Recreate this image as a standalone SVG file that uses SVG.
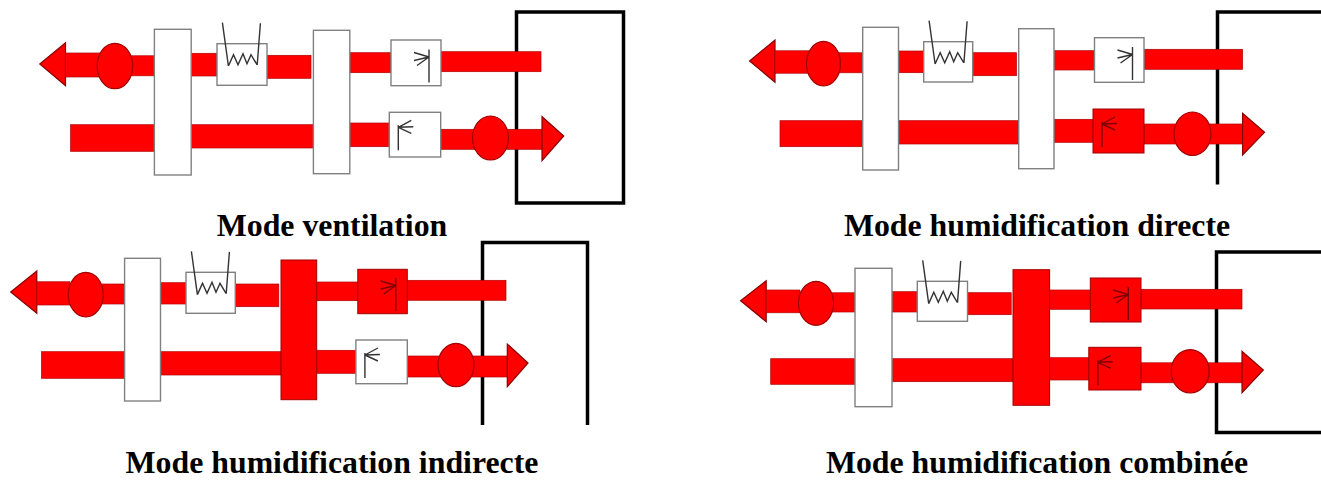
<svg xmlns="http://www.w3.org/2000/svg" width="1321" height="480" viewBox="0 0 1321 480">
<style>
.room{fill:#fff;stroke:#000;stroke-width:3.5}
.band{fill:#f00;stroke:#b00000;stroke-width:.7}
.tip{fill:#f00;stroke:#8a0000;stroke-width:1.200}
.fan{fill:#f00;stroke:#a00000;stroke-width:1.200}
.off{fill:#fff;stroke:#808080;stroke-width:1.400}
.on{fill:#f00;stroke:#a00000;stroke-width:1}
.ln{fill:none;stroke:#333;stroke-width:1.400}
.lnr{fill:none;stroke:#800000;stroke-width:1.400}
text{font-family:"Liberation Serif","Times New Roman",serif;font-weight:bold;font-size:31.800px;fill:#000;text-anchor:middle}
</style>
<defs>
<g id="coil"><path class="ln" d="M5.400-21 11.400 22.300M43.400-20.400 40.200 21.300M11.400 22.300 16.500 11 21 21 26 10 30 20 34 11 40 21"/></g>
<path id="dU" d="M38-9V24M38 -1.500 23-6M38-1.500 23 2M38-1.500 26 7"/>
<path id="dL" d="M9 13V38M9 15 22 8M9 15 24 14.500M9 15 22 21"/>
</defs>
<rect width="1321" height="480" fill="#fff"/>

<g id="rooms">
<rect id="room-1" class="room" x="516.500" y="12" width="107" height="191"/>
<path id="room-2" class="room" d="M1321 12H1217.500V184.500"/>
<path id="room-3" class="room" d="M482.500 425V242.500H587.500V425"/>
<path id="room-4" class="room" d="M1321 252H1216.500V432.500H1321"/>
</g>

<g id="connectors">
<g id="flows-1">
<polygon class="tip" points="39.800,64 65.500,42.700 65.500,85.700"/>
<path class="band" d="M65.500 53H100V55.700H154.400V75.700H100V77H65.500Z"/>
<rect class="band" x="191" y="53.300" width="26" height="22.700"/>
<rect class="band" x="267" y="55.300" width="44" height="23"/>
<rect class="band" x="350" y="52.700" width="41" height="20"/>
<rect class="band" x="441" y="51.700" width="100" height="20"/>
<rect class="band" x="70.600" y="124.700" width="83.800" height="26.600"/>
<rect class="band" x="191" y="124.700" width="122.400" height="23.300"/>
<rect class="band" x="350" y="123" width="39.300" height="23.700"/>
<rect class="band" x="440.700" y="129.300" width="101.300" height="20"/>
<polygon class="tip" points="563.700,136 542,116.700 542,160.700"/>
</g>
<g id="flows-2">
<polygon class="tip" points="749.600,61 775,40 775,82.300"/>
<path class="band" d="M775 50.700H810V52.700H862.700V72.700H810V73.300H775Z"/>
<rect class="band" x="898.500" y="51" width="25.200" height="21.700"/>
<rect class="band" x="972.700" y="52.700" width="43.800" height="23"/>
<rect class="band" x="1054" y="50.700" width="40.500" height="19.300"/>
<rect class="band" x="1144" y="49.300" width="98.600" height="20"/>
<rect class="band" x="780" y="120.700" width="82.700" height="26"/>
<rect class="band" x="898.500" y="120.700" width="120.200" height="23.300"/>
<rect class="band" x="1054" y="119.300" width="39" height="23"/>
<rect class="band" x="1144" y="124" width="98.600" height="20"/>
<polygon class="tip" points="1264.500,132.300 1242.600,113.300 1242.600,155"/>
</g>
<g id="flows-3">
<polygon class="tip" points="10.700,292 36.800,271 36.800,313.300"/>
<path class="band" d="M36.800 281.700H70V284H124.600V304H70V305H36.800Z"/>
<rect class="band" x="160.500" y="282.700" width="25.500" height="21.300"/>
<rect class="band" x="235.300" y="284" width="43.500" height="22.700"/>
<rect class="band" x="316.700" y="282" width="41.100" height="18.700"/>
<rect class="band" x="407.300" y="280.300" width="98.700" height="20"/>
<rect class="band" x="41.500" y="351.700" width="83.100" height="26.600"/>
<rect class="band" x="160.500" y="351.700" width="120.500" height="23.300"/>
<rect class="band" x="316.700" y="350.300" width="39.200" height="23"/>
<rect class="band" x="407.300" y="356" width="100" height="21"/>
<polygon class="tip" points="528,363 507.300,344 507.300,386.700"/>
</g>
<g id="flows-4">
<polygon class="tip" points="740.600,300.700 766.200,280.700 766.200,321.700"/>
<path class="band" d="M766.200 290H800V292.700H855V312H800V312.700H766.200Z"/>
<rect class="band" x="892" y="291.700" width="25.300" height="20.300"/>
<rect class="band" x="967.500" y="292.700" width="43.700" height="22"/>
<rect class="band" x="1049.600" y="290" width="40.700" height="19.300"/>
<rect class="band" x="1141" y="289.300" width="101" height="19.700"/>
<rect class="band" x="770.700" y="358.700" width="84.300" height="25.600"/>
<rect class="band" x="892" y="358.700" width="121" height="23"/>
<rect class="band" x="1049.600" y="357.700" width="39.200" height="22.300"/>
<rect class="band" x="1141" y="362.800" width="101" height="20"/>
<polygon class="tip" points="1263.300,370 1242,351.300 1242,392.700"/>
</g>
</g>

<g id="panel-1">
<ellipse id="fan-1a" class="fan" cx="114.900" cy="66" rx="17.800" ry="22.700"/>
<rect id="exch-1a" class="off" x="154.400" y="29.300" width="36.800" height="145.700"/>
<g id="heater-1" transform="translate(217 43.700)"><rect class="off" width="50" height="41.600"/><use href="#coil"/></g>
<rect id="exch-1b" class="off" x="313.400" y="30.300" width="36.400" height="143.400"/>
<g id="damper-1a" transform="translate(391 58.500)"><rect class="off" y="-18.500" width="50" height="45.700"/><use href="#dU" class="ln"/></g>
<g id="damper-1b" transform="translate(389.300 112.300)"><rect class="off" width="51.400" height="44.700"/><use href="#dL" class="ln"/></g>
<ellipse id="fan-1b" class="fan" cx="490.500" cy="138" rx="18" ry="22"/>
<text x="332" y="235.500">Mode ventilation</text>
</g>

<g id="panel-2">
<ellipse id="fan-2a" class="fan" cx="823.500" cy="63.700" rx="17" ry="22.300"/>
<rect id="exch-2a" class="off" x="862.700" y="27.300" width="35.800" height="142.700"/>
<g id="heater-2" transform="translate(923.700 41.700)"><rect class="off" width="49" height="40.300"/><use href="#coil"/></g>
<rect id="exch-2b" class="off" x="1018.700" y="28.700" width="35.300" height="140"/>
<g id="damper-2a" transform="translate(1094.500 56)"><rect class="off" y="-18.300" width="49.500" height="44.600"/><use href="#dU" class="ln"/></g>
<g id="damper-2b" transform="translate(1093 109)"><rect class="on" width="51" height="44"/><use href="#dL" class="lnr"/></g>
<ellipse id="fan-2b" class="fan" cx="1192.500" cy="133.700" rx="18.500" ry="21.700"/>
<text x="1037" y="235.500">Mode humidification directe</text>
</g>

<g id="panel-3">
<ellipse id="fan-3a" class="fan" cx="85.800" cy="294.700" rx="17.500" ry="22.300"/>
<rect id="exch-3a" class="off" x="124.600" y="258.300" width="35.900" height="142.700"/>
<g id="heater-3" transform="translate(186 272.300)"><rect class="off" width="49.300" height="41"/><use href="#coil"/></g>
<rect id="exch-3b" class="on" x="281" y="260" width="35.700" height="139.700"/>
<g id="damper-3a" transform="translate(357.800 287)"><rect class="on" y="-17.700" width="49.500" height="44.400"/><use href="#dU" class="lnr"/></g>
<g id="damper-3b" transform="translate(355.900 340)"><rect class="off" width="51.400" height="43.700"/><use href="#dL" class="ln"/></g>
<ellipse id="fan-3b" class="fan" cx="456" cy="365" rx="18" ry="21.700"/>
<text x="332" y="473">Mode humidification indirecte</text>
</g>

<g id="panel-4">
<ellipse id="fan-4a" class="fan" cx="816" cy="303.300" rx="17.500" ry="22"/>
<rect id="exch-4a" class="off" x="855" y="268.300" width="37" height="138.400"/>
<g id="heater-4" transform="translate(917.300 281.300)"><rect class="off" width="50.200" height="40"/><use href="#coil"/></g>
<rect id="exch-4b" class="on" x="1013" y="269.700" width="36.600" height="135.600"/>
<g id="damper-4a" transform="translate(1090.300 296)"><rect class="on" y="-18" width="50.700" height="44"/><use href="#dU" class="lnr"/></g>
<g id="damper-4b" transform="translate(1088.800 347.300)"><rect class="on" width="52.200" height="42.700"/><use href="#dL" class="lnr"/></g>
<ellipse id="fan-4b" class="fan" cx="1190.200" cy="371.300" rx="19" ry="21.700"/>
<text x="1037" y="473">Mode humidification combinée</text>
</g>
</svg>
